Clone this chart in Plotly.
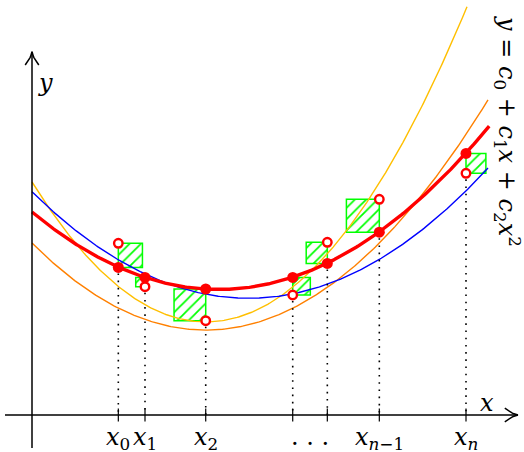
import numpy as np
import plotly.graph_objects as go

# Abscissae of the samples
x_nodes = [2.158, 2.825, 4.343, 6.518, 7.383, 8.683, 10.85]
# Measured values (hollow markers)
y_measured = [4.293, 3.208, 2.358, 3.00, 4.318, 5.393, 6.043]
# Values of the fitted parabola at the nodes (filled markers)
y_fitted = [3.69, 3.44, 3.15, 3.44, 3.79, 4.57, 6.54]
# Which side of the node each residual square is drawn on
square_side = [1, -1, -1, 1, -1, -1, 1]
# Labels under the x-axis
tick_labels = ["<i>x</i><sub>0</sub>", "<i>x</i><sub>1</sub>", "<i>x</i><sub>2</sub>",
               None, None, "<i>x</i><sub><i>n</i>−1</sub>", "<i>x</i><sub><i>n</i></sub>"]
dots_label = ". . ."

# Parabolas y = c0 + c1 x + c2 x^2 : (c0, c1, c2, x_end)
fit_curve = (5.075, -0.8308, 0.0891, 11.43)
blue_curve = (5.58, -0.984, 0.0909, 11.4)
yellow_curve = (5.825, -1.609, 0.185, 10.875)
orange_curve = (4.3, -1.003, 0.1155, 11.4)

RED = "#ff0000"
GREEN = "#00ff00"
MATH_FONT = "DejaVu Serif, Liberation Serif, serif"

X_RANGE = [-0.8, 12.3]
Y_RANGE = [-0.925, 10.375]
X_AXIS = (-0.675, 12.15)
Y_AXIS = (-0.825, 9.08)

fig = go.Figure()

# residual squares, hatched
for xi, ym, yf, s in zip(x_nodes, y_measured, y_fitted, square_side):
    side = abs(ym - yf)
    x2 = xi + s * side
    fig.add_trace(go.Scatter(
        x=[xi, x2, x2, xi, xi], y=[yf, yf, ym, ym, yf],
        mode="lines", line=dict(color=GREEN, width=1.5),
        fill="toself", fillcolor="rgba(0,0,0,0)",
        fillpattern=dict(shape="/", fgcolor=GREEN, bgcolor="rgba(0,0,0,0)",
                         fgopacity=1, size=8, solidity=0.22),
        hoverinfo="skip", showlegend=False))


def parabola(c, width, color):
    c0, c1, c2, xe = c
    xs = np.linspace(0, xe, 300)
    ys = c0 + c1 * xs + c2 * xs ** 2
    fig.add_trace(go.Scatter(x=xs, y=ys, mode="lines",
                             line=dict(color=color, width=width),
                             hoverinfo="skip", showlegend=False))


parabola(orange_curve, 1.4, "#ff8000")
parabola(yellow_curve, 1.4, "#ffbf00")
parabola(blue_curve, 1.4, "#0000ff")

# dotted verticals from the lower point down to the axis, with small ticks
for xi, ym, yf in zip(x_nodes, y_measured, y_fitted):
    fig.add_trace(go.Scatter(x=[xi, xi], y=[min(ym, yf) - 0.15, 0.0], mode="lines",
                             line=dict(color="black", width=1.6, dash="1.6px,5.6px"),
                             hoverinfo="skip", showlegend=False))
    fig.add_trace(go.Scatter(x=[xi, xi], y=[-0.16, 0.16], mode="lines",
                             line=dict(color="black", width=1.2),
                             hoverinfo="skip", showlegend=False))

parabola(fit_curve, 3.4, RED)

# axes with open arrow heads
fig.add_trace(go.Scatter(x=list(X_AXIS), y=[0, 0], mode="lines",
                         line=dict(color="black", width=1.5),
                         hoverinfo="skip", showlegend=False))
fig.add_trace(go.Scatter(x=[0, 0], y=list(Y_AXIS), mode="lines",
                         line=dict(color="black", width=1.5),
                         hoverinfo="skip", showlegend=False))

t = np.linspace(0, 1, 12)
back = 0.33 * t
out = 0.17 * t ** 1.5
for sgn in (1, -1):
    fig.add_trace(go.Scatter(x=X_AXIS[1] - back, y=sgn * out, mode="lines",
                             line=dict(color="black", width=1.5),
                             hoverinfo="skip", showlegend=False))
    fig.add_trace(go.Scatter(x=sgn * out, y=Y_AXIS[1] - back, mode="lines",
                             line=dict(color="black", width=1.5),
                             hoverinfo="skip", showlegend=False))

# measured and fitted points
fig.add_trace(go.Scatter(x=x_nodes, y=y_fitted, mode="markers",
                         marker=dict(color=RED, size=11, line=dict(width=0)),
                         hoverinfo="skip", showlegend=False))
fig.add_trace(go.Scatter(x=x_nodes, y=y_measured, mode="markers",
                         marker=dict(color="white", size=8.5, line=dict(color=RED, width=2.4)),
                         hoverinfo="skip", showlegend=False))

font = dict(family=MATH_FONT, size=24, color="black")
for xi, lab in zip(x_nodes, tick_labels):
    if lab:
        fig.add_annotation(x=xi, y=-0.14, text=lab, showarrow=False,
                           xanchor="center", yanchor="top", font=font)
fig.add_annotation(x=(x_nodes[3] + x_nodes[4]) / 2, y=-0.14, text=dots_label,
                   showarrow=False, xanchor="center", yanchor="top", font=font)

fig.add_annotation(x=11.375, y=0.3, text="<i>x</i>", showarrow=False, font=font)
fig.add_annotation(x=0.33, y=8.3, text="<i>y</i>", showarrow=False, font=font)
fig.add_annotation(
    x=11.9, y=7.1, textangle=90, showarrow=False, font=font,
    text="<i>y</i> = <i>c</i><sub>0</sub> + <i>c</i><sub>1</sub><i>x</i> + "
         "<i>c</i><sub>2</sub><i>x</i><sup>2</sup>")

fig.update_layout(
    width=524, height=452, margin=dict(l=0, r=0, t=0, b=0),
    paper_bgcolor="white", plot_bgcolor="white",
    xaxis=dict(range=X_RANGE, visible=False, fixedrange=True),
    yaxis=dict(range=Y_RANGE, visible=False, fixedrange=True),
)

fig.write_html("out.html")
